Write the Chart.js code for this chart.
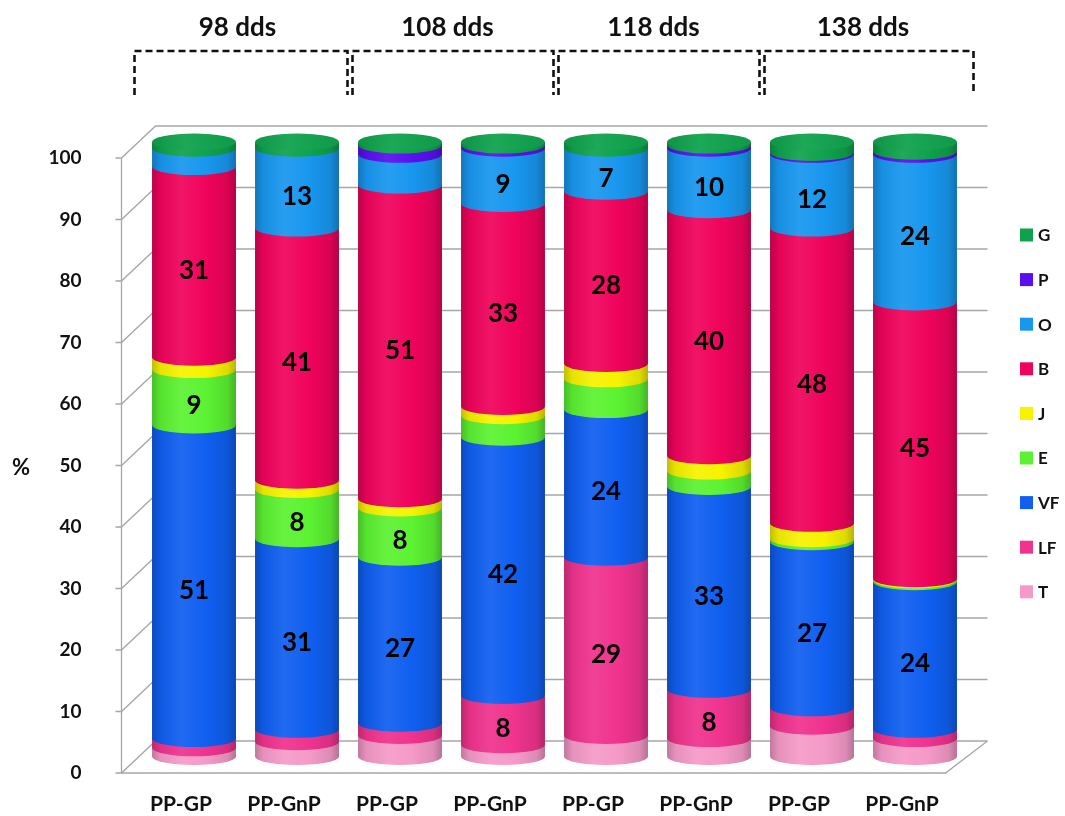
<!DOCTYPE html>
<html>
<head>
<meta charset="utf-8">
<title>Composición por etapa</title>
<script src="https://cdn.jsdelivr.net/npm/chart.js@4.4.1/dist/chart.umd.min.js"></script>
<style>
  html, body { margin: 0; padding: 0; background: #ffffff; }
  #wrap { width: 1065px; height: 816px; position: relative; }
</style>
</head>
<body>
<div id="wrap"><canvas id="c" width="1065" height="816"></canvas></div>
<script>
// ---- data -------------------------------------------------------------
const categories  = ['PP-GP', 'PP-GnP', 'PP-GP', 'PP-GnP', 'PP-GP', 'PP-GnP', 'PP-GP', 'PP-GnP'];
const stageLabels = ['98 dds', '108 dds', '118 dds', '138 dds'];
const seriesNames = ['T', 'LF', 'VF', 'E', 'J', 'B', 'O', 'P', 'G'];
const yTicks      = [0, 10, 20, 30, 40, 50, 60, 70, 80, 90, 100];

const T  = [1.5, 2.5, 3.5, 2,   3.5, 3,   5,   3];
const LF = [1.5, 2,   2,   8,   29,  8,   3,   1.5];
const VF = [51,  31,  27,  42,  24,  33,  27,  24];
const E  = [9,   8,   8,   3.5, 5,   2.5, 0.5, 0.3];
const J  = [2,   1.5, 1.5, 1.5, 2.5, 2.5, 2.5, 0.2];
const B  = [31,  41,  51,  33,  28,  40,  48,  45];
const O  = [3,   13,  5,   9,   7,   10,  12,  24];
const P  = [0,   0,   1.5, 0.5, 0,   0.5, 0.3, 0.5];
const G  = [1,   1,   0.5, 0.5, 1,   0.5, 1.7, 1.5];

const seriesValues = [T, LF, VF, E, J, B, O, P, G];
const seriesColors = ['#f59ac8', '#f0338e', '#105ff0', '#5cf232', '#f6f200',
                      '#f0035c', '#1897ef', '#5b0ff0', '#0fa24c'];

// ---- drawing helpers -------------------------------------------------
const BAR_PCT = 0.815;     // cylinder diameter as a share of the category slot
const RY = 8.5;            // vertical radius of the elliptical cross-section
const HALF_DX = 21;        // mid-plane -> front plane offset of the 3D box
const HALF_DY = 16;
const FONT = 'Lato, "Open Sans", "DejaVu Sans", sans-serif';

function shade(hex, f) {
  const n = parseInt(hex.slice(1), 16);
  let r = (n >> 16) & 255, g = (n >> 8) & 255, b = n & 255;
  const t = f < 0 ? 0 : 255, p = Math.abs(f);
  r = Math.round((t - r) * p + r);
  g = Math.round((t - g) * p + g);
  b = Math.round((t - b) * p + b);
  return 'rgb(' + r + ',' + g + ',' + b + ')';
}

function bodyGradient(ctx, x0, x1, color) {
  const gr = ctx.createLinearGradient(x0, 0, x1, 0);
  gr.addColorStop(0.00, shade(color, -0.22));
  gr.addColorStop(0.10, shade(color, -0.06));
  gr.addColorStop(0.35, shade(color, 0.07));
  gr.addColorStop(0.65, color);
  gr.addColorStop(0.90, shade(color, -0.10));
  gr.addColorStop(1.00, shade(color, -0.26));
  return gr;
}

function slotWidth(chart) {
  const ca = chart.chartArea;
  return (ca.right - ca.left) / categories.length;
}

// ---- plugin: 3D box, cylinder ends, value labels, headings, legend ----
const cylinderPlugin = {
  id: 'cylinders',
  beforeDatasetsDraw(chart) {
    const ctx = chart.ctx, ca = chart.chartArea, ys = chart.scales.y;
    const fx = ca.left - HALF_DX;           // front edge of the left wall
    const frx = ca.right - HALF_DX;         // front edge of the floor, right end
    const bxL = fx + 34, bxR = frx + 42;    // back wall extent
    ctx.save();
    ctx.strokeStyle = '#a6a6a6';
    ctx.lineWidth = 1.3;
    yTicks.forEach(v => {
      const ym = ys.getPixelForValue(v);
      const yf = ym + HALF_DY, yb = ym - HALF_DY;
      ctx.beginPath();
      ctx.moveTo(fx - 6, yf);
      ctx.lineTo(fx, yf);
      ctx.lineTo(bxL, yb);
      ctx.lineTo(bxR, yb);
      ctx.stroke();
    });
    const yTop = ys.getPixelForValue(100) + HALF_DY;
    const y0 = ys.getPixelForValue(0) + HALF_DY;
    ctx.beginPath();
    ctx.moveTo(fx, yTop);
    ctx.lineTo(fx, y0);
    ctx.lineTo(frx, y0);
    ctx.lineTo(bxR, y0 - 2 * HALF_DY);
    ctx.stroke();
    ctx.restore();
  },
  afterDatasetsDraw(chart) {
    const ctx = chart.ctx;
    const sets = chart.data.datasets;
    ctx.save();
    for (let j = 0; j < categories.length; j++) {
      let top = null;
      for (let i = 0; i < sets.length; i++) {
        const v = sets[i].data[j];
        if (!v) continue;
        const el = chart.getDatasetMeta(i).data[j];
        const { x, y, base, width } = el.getProps(['x', 'y', 'base', 'width'], true);
        const rx = width / 2;
        // curved lower edge of the segment (plus a hairline above the seam)
        ctx.beginPath();
        ctx.ellipse(x, base, rx, RY, 0, 0, Math.PI);
        ctx.lineTo(x - rx, base - 1);
        ctx.lineTo(x + rx, base - 1);
        ctx.closePath();
        ctx.fillStyle = bodyGradient(ctx, x - rx, x + rx, seriesColors[i]);
        ctx.fill();
        top = { x, y, rx, color: seriesColors[i] };
      }
      if (top) {
        const gr = ctx.createLinearGradient(top.x - top.rx, 0, top.x + top.rx, 0);
        gr.addColorStop(0, shade(top.color, -0.08));
        gr.addColorStop(0.4, shade(top.color, 0.06));
        gr.addColorStop(1, shade(top.color, -0.05));
        ctx.beginPath();
        ctx.ellipse(top.x, top.y, top.rx, RY, 0, 0, Math.PI * 2);
        ctx.fillStyle = gr;
        ctx.fill();
      }
    }
    // value labels on the larger segments
    ctx.fillStyle = '#000000';
    ctx.font = 'bold 26px ' + FONT;
    ctx.textAlign = 'center';
    ctx.textBaseline = 'middle';
    for (let i = 0; i < sets.length; i++) {
      const meta = chart.getDatasetMeta(i);
      sets[i].data.forEach((v, j) => {
        if (v < 7) return;
        const el = meta.data[j];
        const { x, y, base } = el.getProps(['x', 'y', 'base'], true);
        ctx.fillText(String(Math.round(v)), x, (y + base) / 2 + RY);
      });
    }
    ctx.restore();
  },
  afterDraw(chart) {
    const ctx = chart.ctx, xs = chart.scales.x, ys = chart.scales.y;
    const half = slotWidth(chart) / 2;
    ctx.save();
    // stage headings with dashed brackets
    ctx.fillStyle = '#111111';
    ctx.font = 'bold 26px ' + FONT;
    ctx.textAlign = 'center';
    ctx.textBaseline = 'middle';
    ctx.strokeStyle = '#111111';
    ctx.lineWidth = 2.6;
    ctx.setLineDash([7, 4]);
    const yBar = 51, yEnd = 95;
    stageLabels.forEach((lab, g) => {
      let left = xs.getPixelForValue(2 * g) - half;
      let right = xs.getPixelForValue(2 * g + 1) + half;
      if (g === 0) left -= 8;
      if (g === stageLabels.length - 1) right += 7;
      const l = g === 0 ? left : left + 4;
      const r = g === stageLabels.length - 1 ? right : right - 1;
      ctx.fillText(lab, (left + right) / 2 - 4, 28);
      ctx.beginPath();
      ctx.moveTo(l, yEnd);
      ctx.lineTo(l, yBar);
      ctx.lineTo(r, yBar);
      ctx.lineTo(r, yEnd);
      ctx.stroke();
    });
    ctx.setLineDash([]);
    // axis unit
    ctx.font = 'bold 22px ' + FONT;
    ctx.fillText('%', 21, ys.getPixelForValue(50) + HALF_DY + 2);
    // legend, top series first
    ctx.font = 'bold 17px ' + FONT;
    ctx.textAlign = 'left';
    const sets = chart.data.datasets;
    for (let k = 0; k < sets.length; k++) {
      const i = sets.length - 1 - k;
      const cy = 235 + k * 44.6;
      ctx.fillStyle = seriesColors[i];
      ctx.fillRect(1020, cy - 6.5, 13, 13);
      ctx.fillStyle = '#111111';
      ctx.fillText(sets[i].label, 1038, cy + 1);
    }
    ctx.restore();
  }
};

// ---- chart ------------------------------------------------------------
const datasets = seriesNames.map((name, i) => ({
  label: name,
  data: seriesValues[i],
  borderWidth: 0,
  inflateAmount: 0,
  backgroundColor: (c) => {
    const chart = c.chart;
    const color = seriesColors[i];
    if (!chart.chartArea || !chart.scales.x || c.dataIndex === undefined) return color;
    const cx = chart.scales.x.getPixelForValue(c.dataIndex);
    const r = slotWidth(chart) * BAR_PCT / 2;
    return bodyGradient(chart.ctx, cx - r, cx + r, color);
  }
}));

new Chart(document.getElementById('c'), {
  type: 'bar',
  data: { labels: categories, datasets },
  plugins: [cylinderPlugin],
  options: {
    responsive: false,
    animation: false,
    events: [],
    layout: { padding: { left: 0, top: 142, right: 98.5, bottom: 0 } },
    datasets: { bar: { categoryPercentage: 1, barPercentage: BAR_PCT } },
    plugins: { legend: { display: false }, tooltip: { enabled: false } },
    scales: {
      x: {
        stacked: true,
        grid: { display: false, drawTicks: false },
        border: { display: false },
        ticks: {
          color: '#111111',
          font: { family: FONT, weight: 'bold', size: 21 },
          padding: 35,
          labelOffset: -13,
          maxRotation: 0,
          autoSkip: false
        },
        afterFit: (s) => { s.height = 59; }
      },
      y: {
        stacked: true,
        min: 0,
        max: 100,
        grid: { display: true, drawOnChartArea: false, drawTicks: true, tickLength: 14, color: 'rgba(0,0,0,0)' },
        border: { display: false },
        ticks: {
          stepSize: 10,
          color: '#111111',
          font: { family: FONT, weight: 'bold', size: 19 },
          padding: 47,
          labelOffset: HALF_DY
        },
        afterFit: (s) => { s.width = 142.5; }
      }
    }
  }
});
</script>
</body>
</html>
